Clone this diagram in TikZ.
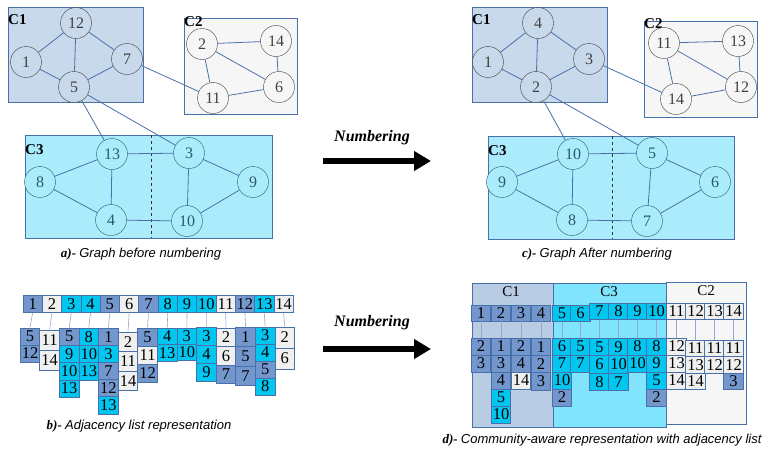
\documentclass[tikz,border=0pt]{standalone}
\usepackage{fontspec}
\setmainfont{Liberation Serif}
\newfontfamily\capfont{Liberation Sans}
\usetikzlibrary{arrows.meta}

\definecolor{boxone}{RGB}{200,217,235}
\definecolor{boxtwo}{RGB}{246,246,246}
\definecolor{boxthree}{RGB}{170,236,252}
\definecolor{dboxone}{RGB}{184,204,228}
\definecolor{dboxthree}{RGB}{128,228,252}
\definecolor{edgeblue}{RGB}{74,112,170}
\definecolor{cone}{RGB}{115,151,204}
\definecolor{ctwo}{RGB}{240,240,240}
\definecolor{cthree}{RGB}{0,198,240}
\definecolor{tealtext}{RGB}{40,90,105}

\tikzset{
  vtx/.style={circle, draw=black!75, minimum size=31pt, inner sep=0pt, font=\fontsize{16}{16}\selectfont, text=black!75},
  vone/.style={vtx, fill=boxone},
  vtwo/.style={vtx, fill=boxtwo},
  vthree/.style={vtx, fill=boxthree, draw=tealtext, text=tealtext},
  comm/.style={draw=edgeblue, line width=0.9pt},
  link/.style={edgeblue, line width=0.8pt},
  lbl/.style={anchor=base west, inner sep=0pt, font=\fontsize{15}{15}\selectfont\bfseries},
  clbl/.style={inner sep=0pt, font=\fontsize{15}{15}\selectfont},
  cell/.style={draw=edgeblue, line width=0.8pt, minimum width=19.6pt, minimum height=17pt, inner sep=0pt, font=\fontsize{16.5}{16.5}\selectfont},
  tie/.style={draw=edgeblue!60, line width=0.6pt},
  numarrow/.style={line width=6pt, -{Triangle[length=17pt,width=19pt]}},
  numtext/.style={font=\fontsize{16}{16}\selectfont\bfseries\itshape},
  caption/.style={font=\fontsize{13}{13}\selectfont},
}

\begin{document}
\begin{tikzpicture}[x=1pt,y=-1pt]
\useasboundingbox[fill=white] (0,0) rectangle (774,458);

% a) graph before numbering
\draw[comm, fill=boxone] (8,7) rectangle (143,102);
\draw[comm, fill=boxtwo] (184,18) rectangle (297,114);
\draw[comm, fill=boxthree] (25,135) rectangle (272,238);
\draw[dashed, black!80, line width=0.7pt] (151,135) -- (151,238);
\node[lbl] (aC1) at (8,24) {C1};
\node[lbl] (aC2) at (184,26) {C2};
\node[lbl] (aC3) at (25,154) {C3};

\node[vone] (a12) at (76,23) {12};
\node[vone] (a1) at (26,62) {1};
\node[vone] (a7) at (127,59) {7};
\node[vone] (a5) at (74,87) {5};
\node[vtwo] (a2) at (202,44) {2};
\node[vtwo] (a14) at (276,41) {14};
\node[vtwo] (a6) at (279,87) {6};
\node[vtwo] (a11) at (213,98) {11};
\node[vthree] (a13) at (112,154) {13};
\node[vthree] (a3) at (189,153) {3};
\node[vthree] (a8) at (40,182) {8};
\node[vthree] (a9) at (253,182) {9};
\node[vthree] (a4) at (111,220) {4};
\node[vthree] (a10) at (187,221) {10};

\draw[link] (a12) -- (a1) (a12) -- (a5) (a12) -- (a7) (a1) -- (a5) (a5) -- (a7);
\draw[link] (a7) -- (a11);
\draw[link] (a2) -- (a14) (a2) -- (a6) (a2) -- (a11) (a14) -- (a6) (a11) -- (a6);
\draw[link] (a5) -- (a13) (a5) -- (a3);
\draw[link] (a13) -- (a8) (a13) -- (a4) (a13) -- (a3) (a8) -- (a4);
\draw[link] (a4) -- (a10) (a3) -- (a10) (a3) -- (a9) (a9) -- (a10);
\node[caption] (capa) at (141,254) {{\bfseries\itshape a)-} {\capfont\itshape Graph before numbering}};

% c) graph after numbering
\draw[comm, fill=boxone] (472,7) rectangle (607,102);
\draw[comm, fill=boxtwo] (644,21) rectangle (757,117);
\draw[comm, fill=boxthree] (488,136) rectangle (734,239);
\draw[dashed, black!80, line width=0.7pt] (612,136) -- (612,239);
\node[lbl] (cC1) at (472,24) {C1};
\node[lbl] (cC2) at (644,28) {C2};
\node[lbl] (cC3) at (488,155) {C3};

\node[vone] (c4) at (538,23) {4};
\node[vone] (c1) at (488,62) {1};
\node[vone] (c3) at (589,59) {3};
\node[vone] (c2) at (536,87) {2};
\node[vtwo] (c11) at (664,43) {11};
\node[vtwo] (c13) at (738,41) {13};
\node[vtwo] (c12) at (741,87) {12};
\node[vtwo] (c14) at (676,99) {14};
\node[vthree] (c10) at (573,154) {10};
\node[vthree] (c5) at (652,153) {5};
\node[vthree] (c9) at (502,182) {9};
\node[vthree] (c6) at (715,182) {6};
\node[vthree] (c8) at (572,220) {8};
\node[vthree] (c7) at (647,221) {7};

\draw[link] (c4) -- (c1) (c4) -- (c2) (c4) -- (c3) (c1) -- (c2) (c2) -- (c3);
\draw[link] (c3) -- (c14);
\draw[link] (c11) -- (c13) (c11) -- (c12) (c11) -- (c14) (c13) -- (c12) (c14) -- (c12);
\draw[link] (c2) -- (c10) (c2) -- (c5);
\draw[link] (c10) -- (c9) (c10) -- (c8) (c10) -- (c5) (c9) -- (c8);
\draw[link] (c8) -- (c7) (c5) -- (c7) (c5) -- (c6) (c6) -- (c7);
\node[caption] (capc) at (597,254) {{\bfseries\itshape c)-} {\capfont\itshape Graph After numbering}};

% numbering arrows
\coordinate (ns1) at (323,161);
\coordinate (ne1) at (431,161);
\draw[numarrow] (ns1) -- (ne1);
\node[numtext] (nt1) at (372,138) {Numbering};
\coordinate (ns2) at (323,349);
\coordinate (ne2) at (431,349);
\draw[numarrow] (ns2) -- (ne2);
\node[numtext] (nt2) at (372,323) {Numbering};

% b) adjacency list
\foreach \i/\f in {1/cone,2/ctwo,3/cthree,4/cthree,5/cone,6/ctwo,7/cone,8/cthree,9/cthree,10/cthree,11/ctwo,12/cone,13/cthree,14/ctwo}
  \node[cell, minimum width=19.3pt, fill=\f] (bt\i) at ({32.65+19.3*(\i-1)},304) {\i};
\foreach \c/\y/\h/\lst in {1/328/17/{5/cone,12/cone},
    2/330/20/{11/ctwo,14/ctwo},
    3/328/17.3/{5/cone,9/cthree,10/cthree,13/cthree},
    4/328/17.3/{8/cthree,10/cthree,13/cthree},
    5/328/17.2/{1/cone,3/cthree,7/cone,12/cone,13/cthree},
    6/332/19.5/{2/ctwo,11/ctwo,14/ctwo},
    7/328/18/{5/cone,11/ctwo,12/cone},
    8/328/16.5/{4/cthree,13/cthree},
    9/328/16/{3/cthree,10/cthree},
    10/327/18/{3/cthree,4/cthree,9/cthree},
    11/328/18.5/{2/ctwo,6/ctwo,7/cone},
    12/327/19.5/{1/cone,5/cone,7/cone},
    13/327/17/{3/cthree,4/cthree,5/cone,8/cthree},
    14/327/21/{2/ctwo,6/ctwo}}{
  \foreach \v/\f [count=\k] in \lst
    \node[cell, minimum height=\h pt, fill=\f] (b\c-\k) at ({30+19.6*(\c-1)},{\y+\h/2+\h*(\k-1)}) {\v};
  \draw[tie] (bt\c.south) -- (b\c-1.north);
}
\node[caption] (capb) at (139,426) {{\bfseries\itshape b)-} {\capfont\itshape Adjacency list representation}};

% d) community-aware representation
\draw[comm, fill=dboxone] (472,283) rectangle (553,427);
\draw[comm, fill=dboxthree] (553,283) rectangle (666,427);
\draw[comm, fill=boxtwo] (666,282) rectangle (746,424);
\node[clbl] (dC1) at (511,292) {C1};
\node[clbl] (dC3) at (609,292) {C3};
\node[clbl] (dC2) at (706,291) {C2};
\foreach \i/\x/\y/\f in {1/481/313/cone,2/501/313/cone,3/521/313/cone,4/541/313/cone,
    5/562/313.5/cthree,6/580.5/313.5/cthree,7/599.5/311.5/cthree,8/618.5/311.5/cthree,9/637.5/311.5/cthree,10/656.5/311.5/cthree,
    11/676.5/311.5/ctwo,12/695.5/311.5/ctwo,13/714.5/311.5/ctwo,14/733.5/311.5/ctwo}
  \node[cell, minimum height=16pt, fill=\f] (dt\i) at (\x,\y) {\i};
\foreach \c/\x/\y/\h/\lst in {1/481/338/17/{2/cone,3/cone},
    2/501/338/17/{1/cone,3/cone,4/cone,5/cthree,10/cthree},
    3/521/338/17/{2/cone,4/cone,14/ctwo},
    4/541/338/17.3/{1/cone,2/cone,3/cone},
    5/562/338/17/{6/cthree,7/cthree,10/cthree,2/cone},
    6/580.5/338/17/{5/cthree,7/cthree},
    7/599.5/338/17.5/{5/cthree,6/cthree,8/cthree},
    8/618.5/338/17.5/{9/cthree,10/cthree,7/cthree},
    9/637.5/338/17/{8/cthree,10/cthree},
    10/656.5/338/17/{8/cthree,9/cthree,5/cthree,2/cone},
    11/676.5/338/17/{12/ctwo,13/ctwo,14/ctwo},
    12/695.5/340/16.5/{11/ctwo,13/ctwo,14/ctwo},
    13/714.5/340/16.5/{11/ctwo,12/ctwo},
    14/733.5/340/16.5/{11/ctwo,12/ctwo,3/cone}}{
  \foreach \v/\f [count=\k] in \lst
    \node[cell, minimum height=\h pt, fill=\f] (d\c-\k) at (\x,{\y+\h/2+\h*(\k-1)}) {\v};
  \draw[tie] (dt\c.south) -- (d\c-1.north);
}
\node[caption] (capd) at (602,440) {{\bfseries\itshape d)-} {\capfont\itshape Community-aware representation with adjacency list}};
\end{tikzpicture}
\end{document}
